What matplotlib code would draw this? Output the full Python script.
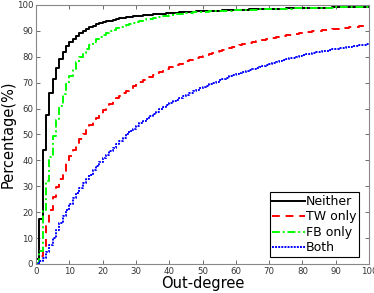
import numpy as np
import matplotlib
matplotlib.use("Agg")
import matplotlib.pyplot as plt

# out-degree 0..100, cumulative percentage
degree = np.arange(0, 101)

neither = [
    2.0, 17.3, 44.0, 57.7, 66.0, 71.5, 75.8, 79.0, 81.8, 84.0,
    85.6, 86.9, 88.1, 89.1, 90.0, 90.8, 91.4, 92.0, 92.5, 92.9,
    93.3, 93.7, 94.0, 94.3, 94.5, 94.8, 95.0, 95.2, 95.4, 95.6,
    95.8, 95.9, 96.05, 96.2, 96.3, 96.4, 96.5, 96.6, 96.7, 96.8,
    96.9, 97.0, 97.05, 97.1, 97.2, 97.3, 97.35, 97.4, 97.5, 97.55,
    97.6, 97.65, 97.7, 97.75, 97.8, 97.85, 97.9, 97.95, 98.0, 98.05,
    98.1, 98.15, 98.2, 98.25, 98.3, 98.33, 98.36, 98.4, 98.43, 98.46,
    98.5, 98.53, 98.56, 98.6, 98.63, 98.66, 98.7, 98.72, 98.75, 98.78,
    98.8, 98.83, 98.86, 98.88, 98.9, 98.93, 98.96, 98.98, 99.0, 99.03,
    99.05, 99.08, 99.1, 99.12, 99.15, 99.17, 99.2, 99.22, 99.25, 99.27,
    99.3,
]

tw_only = [
    0.0, 3.0, 7.0, 15.5, 21.0, 26.0, 29.6, 33.0, 36.0, 38.9,
    41.6, 44.0, 46.3, 48.3, 50.2, 52.0, 53.6, 55.1, 56.5, 57.9,
    59.3, 60.5, 61.7, 62.8, 63.9, 64.9, 65.9, 66.8, 67.7, 68.6,
    69.4, 70.2, 70.9, 71.6, 72.3, 73.0, 73.6, 74.2, 74.8, 75.4,
    75.9, 76.4, 76.9, 77.4, 77.9, 78.3, 78.7, 79.1, 79.5, 79.9,
    80.3, 80.7, 81.1, 81.5, 81.9, 82.3, 82.7, 83.0, 83.4, 83.7,
    84.1, 84.4, 84.8, 85.1, 85.4, 85.7, 86.0, 86.3, 86.6, 86.9,
    87.2, 87.4, 87.7, 87.9, 88.1, 88.3, 88.5, 88.7, 88.9, 89.1,
    89.3, 89.5, 89.6, 89.8, 89.9, 90.1, 90.2, 90.4, 90.5, 90.7,
    90.8, 90.95, 91.1, 91.2, 91.35, 91.5, 91.6, 91.7, 91.8, 91.9,
    92.0,
]

fb_only = [
    0.5, 5.0, 20.5, 32.0, 41.5, 49.5, 55.7, 61.0, 65.5, 69.3,
    72.5, 75.3, 77.8, 79.8, 81.5, 83.0, 84.4, 85.6, 86.7, 87.6,
    88.4, 89.2, 89.9, 90.5, 91.0, 91.5, 92.0, 92.4, 92.8, 93.2,
    93.5, 93.8, 94.1, 94.4, 94.7, 95.0, 95.2, 95.4, 95.6, 95.8,
    96.0, 96.2, 96.4, 96.55, 96.7, 96.85, 97.0, 97.1, 97.2, 97.3,
    97.4, 97.48, 97.55, 97.6, 97.65, 97.7, 97.75, 97.8, 97.85, 97.9,
    97.95, 98.0, 98.05, 98.1, 98.15, 98.2, 98.24, 98.28, 98.32, 98.36,
    98.4, 98.44, 98.48, 98.52, 98.56, 98.6, 98.63, 98.66, 98.69, 98.72,
    98.75, 98.78, 98.81, 98.84, 98.87, 98.9, 98.93, 98.96, 98.99, 99.02,
    99.05, 99.08, 99.1, 99.13, 99.15, 99.18, 99.2, 99.23, 99.25, 99.27,
    99.28,
]

both = [
    0.0, 1.0, 2.5, 4.5, 7.2, 10.2, 13.2, 16.0, 18.6, 21.0,
    23.2, 25.3, 27.3, 29.3, 31.1, 32.8, 34.5, 36.2, 37.8, 39.3,
    40.8, 42.2, 43.6, 44.9, 46.2, 47.5, 48.8, 50.0, 51.2, 52.3,
    53.3, 54.3, 55.2, 56.1, 57.0, 57.9, 58.8, 59.7, 60.5, 61.3,
    62.1, 62.8, 63.5, 64.2, 64.8, 65.4, 66.0, 66.6, 67.2, 67.8,
    68.4, 68.9, 69.4, 69.9, 70.4, 70.9, 71.4, 71.9, 72.4, 72.9,
    73.4, 73.8, 74.2, 74.6, 75.0, 75.4, 75.8, 76.2, 76.6, 77.0,
    77.4, 77.7, 78.1, 78.4, 78.8, 79.1, 79.4, 79.7, 80.0, 80.3,
    80.6, 80.9, 81.2, 81.4, 81.7, 81.9, 82.2, 82.4, 82.7, 82.9,
    83.1, 83.3, 83.5, 83.7, 83.9, 84.1, 84.3, 84.5, 84.6, 84.8,
    85.0,
]

fig = plt.figure(figsize=(3.74, 2.93), dpi=100)
ax = fig.add_axes([0.0963, 0.099, 0.8903, 0.884])

ax.step(degree, neither, where="post", color="black", lw=1.4, label="Neither")
ax.step(degree, tw_only, where="post", color="red", lw=1.4, ls=(0, (4, 3)), label="TW only")
ax.step(degree, fb_only, where="post", color="#00ff00", lw=1.4, ls=(0, (4, 1.5, 1, 1.5)), label="FB only")
ax.step(degree, both, where="post", color="blue", lw=1.4, ls=(0, (1, 0.6)), label="Both")

ax.set_xlim(0, 100)
ax.set_ylim(0, 100)
ax.set_xticks(range(0, 101, 10))
ax.set_yticks(range(0, 101, 10))
ax.tick_params(direction="in", length=3, width=0.6, labelsize=6.2,
               top=True, right=True, colors="#555555", labelcolor="#333333", pad=2)
for s in ax.spines.values():
    s.set_color("#888888")
    s.set_linewidth(0.8)

ax.set_xlabel("Out-degree", fontsize=10.5, labelpad=0)
ax.set_ylabel("Percentage(%)", fontsize=10.5, labelpad=1)

leg = ax.legend(loc="lower right", bbox_to_anchor=(0.97, 0.027), fontsize=9,
                handlelength=2.6, handletextpad=0.1, borderpad=0.2,
                labelspacing=0.2, fancybox=False, framealpha=1, borderaxespad=0)
leg.get_frame().set_edgecolor("black")
leg.get_frame().set_linewidth(0.8)

fig.savefig("out.png", dpi=100)
